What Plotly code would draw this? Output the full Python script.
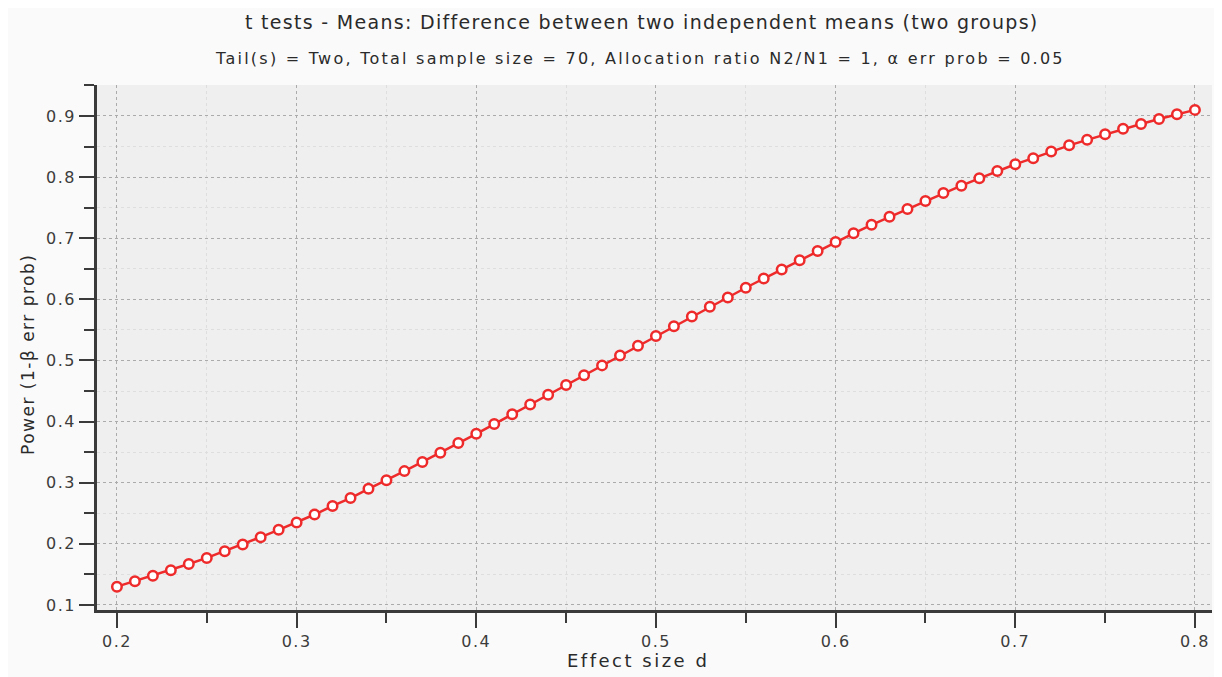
import plotly.graph_objects as go

effect_size = [0.20, 0.21, 0.22, 0.23, 0.24, 0.25, 0.26, 0.27, 0.28, 0.29,
               0.30, 0.31, 0.32, 0.33, 0.34, 0.35, 0.36, 0.37, 0.38, 0.39,
               0.40, 0.41, 0.42, 0.43, 0.44, 0.45, 0.46, 0.47, 0.48, 0.49,
               0.50, 0.51, 0.52, 0.53, 0.54, 0.55, 0.56, 0.57, 0.58, 0.59,
               0.60, 0.61, 0.62, 0.63, 0.64, 0.65, 0.66, 0.67, 0.68, 0.69,
               0.70, 0.71, 0.72, 0.73, 0.74, 0.75, 0.76, 0.77, 0.78, 0.79,
               0.80]
power = [0.130, 0.139, 0.148, 0.157, 0.167, 0.177, 0.188, 0.199, 0.211, 0.223,
         0.235, 0.248, 0.262, 0.275, 0.290, 0.304, 0.319, 0.334, 0.349, 0.365,
         0.380, 0.396, 0.412, 0.428, 0.444, 0.460, 0.476, 0.492, 0.508, 0.524,
         0.540, 0.556, 0.572, 0.588, 0.603, 0.619, 0.634, 0.649, 0.664, 0.679,
         0.694, 0.708, 0.722, 0.735, 0.748, 0.761, 0.774, 0.786, 0.798, 0.810,
         0.821, 0.831, 0.842, 0.852, 0.861, 0.870, 0.879, 0.887, 0.895, 0.903,
         0.910]

x_ticks = [0.2, 0.3, 0.4, 0.5, 0.6, 0.7, 0.8]
y_ticks = [0.1, 0.2, 0.3, 0.4, 0.5, 0.6, 0.7, 0.8, 0.9]

title_main = "t tests - Means: Difference between two independent means (two groups)"
title_sub = "Tail(s) = Two, Total sample size = 70, Allocation ratio N2/N1 = 1, α err prob = 0.05"
x_title = "Effect size d"
y_title = "Power (1-β err prob)"

FONT = "DejaVu Sans"
AX = "#3a3a3a"


def spaced(text, px):
    return f"<span style='letter-spacing:{px}px'>{text}</span>"


fig = go.Figure()
fig.add_trace(go.Scatter(
    x=effect_size, y=power, mode="lines+markers",
    line=dict(color="#ee2a2a", width=2.5),
    marker=dict(symbol="circle", size=9.5, color="white",
                line=dict(color="#ee2a2a", width=2.5)),
    showlegend=False, hoverinfo="x+y",
))

axis_common = dict(
    showline=True, linecolor=AX, linewidth=2.5,
    ticks="outside", ticklen=15, tickwidth=2, tickcolor=AX,
    showgrid=True, gridcolor="#ababab", griddash="3px,3px", gridwidth=1,
    zeroline=False,
    tickfont=dict(family=FONT, size=16, color="#3c3c3c"),
)
minor_common = dict(dtick=0.05, tick0=0.0, ticks="outside", ticklen=10, tickwidth=2,
                    tickcolor=AX, showgrid=True, gridcolor="#dedede", gridwidth=1)

fig.update_xaxes(
    range=[0.1889, 0.8095], tickvals=x_ticks,
    ticktext=[spaced(f"{v:g}", 1.5) for v in x_ticks],
    minor=minor_common,
    **axis_common,
)
fig.update_yaxes(
    range=[0.0918, 0.9507], tickvals=y_ticks,
    ticktext=[spaced(f"{v:g}", 1.5) for v in y_ticks],
    minor=minor_common,
    **axis_common,
)

fig.update_layout(
    width=1222, height=677,
    margin=dict(l=89, r=18, t=77, b=75),
    paper_bgcolor="#fafafa", plot_bgcolor="#efefef",
    font=dict(family=FONT, color="#2a2a2a"),
    annotations=[
        dict(text=spaced(title_main, 1.3), xref="paper", yref="paper", x=0.489, y=1.12,
             xanchor="center", yanchor="middle", showarrow=False,
             font=dict(family=FONT, size=19, color="#2a2a2a")),
        dict(text=spaced(title_sub, 2.25), xref="paper", yref="paper", x=0.487, y=1.0514,
             xanchor="center", yanchor="middle", showarrow=False,
             font=dict(family=FONT, size=16, color="#2a2a2a")),
        dict(text=spaced(x_title, 2.5), xref="paper", yref="paper", x=0.485, y=-0.097,
             xanchor="center", yanchor="middle", showarrow=False,
             font=dict(family=FONT, size=18, color="#2a2a2a")),
        dict(text=spaced(y_title, 1.5), xref="paper", yref="paper", x=-0.0619, y=0.4876,
             xanchor="center", yanchor="middle", showarrow=False, textangle=-90,
             font=dict(family=FONT, size=17, color="#2a2a2a")),
    ],
)

fig.write_html("out.html")
